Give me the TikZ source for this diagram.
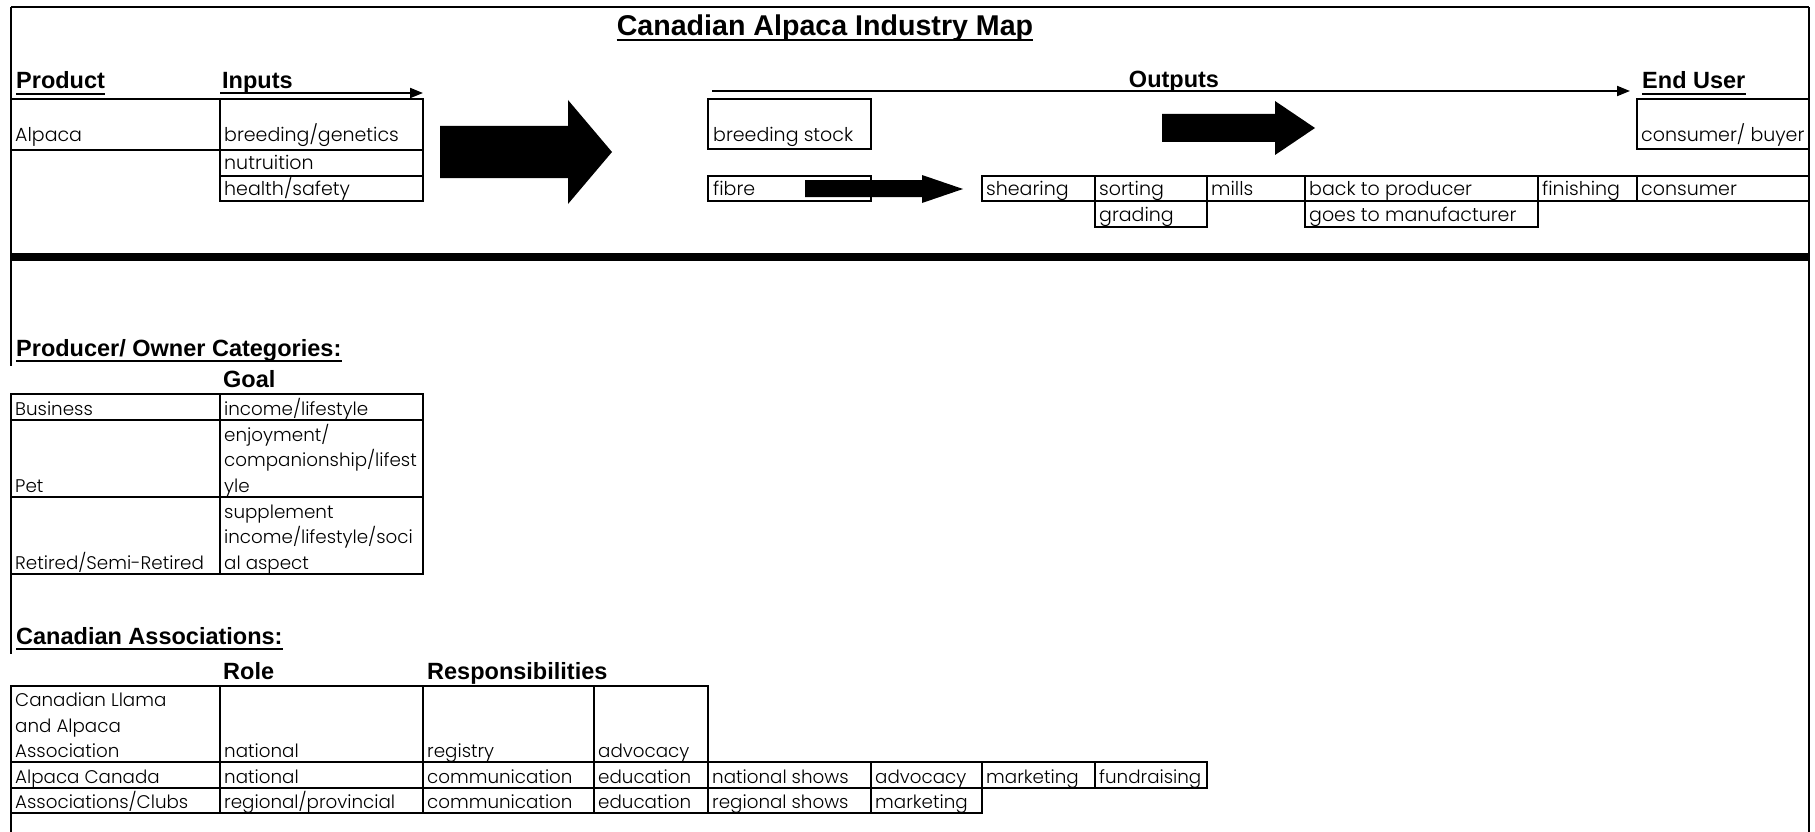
\documentclass[tikz,border=0pt]{standalone}
\usepackage{fontspec}
\setmainfont{Poppins}[UprightFont={* Light}]
\newfontfamily\titlefont{Liberation Sans}
\usetikzlibrary{arrows.meta}
\tikzset{
  txt/.style={anchor=base west, inner sep=0pt, font=\fontsize{19}{19}\selectfont},
  sml/.style={anchor=base west, inner sep=0pt, font=\fontsize{18.3}{18.3}\selectfont},
  head/.style={anchor=base west, inner sep=0pt, font=\titlefont\bfseries\fontsize{23.5}{23.5}\selectfont},
  ttl/.style={anchor=base, inner sep=0pt, font=\titlefont\bfseries\fontsize{28.6}{28.6}\selectfont},
  cell/.style={draw, line width=2pt},
  frm/.style={line width=2.6pt},
  thinarrow/.style={line width=2pt, -{Triangle[length=13pt,width=10pt]}},
  ul/.style={line width=2pt},
  blockarrow/.style={fill=black, draw=none},
}
\begin{document}
\begin{tikzpicture}[x=1pt,y=-1pt]
\useasboundingbox (0,0) rectangle (1815,832);
% frame
\draw[frm] (11,7) -- (1809,7);
\draw[frm] (1809,7) -- (1809,832);
\draw[frm] (11,7) -- (11,366);
\draw[frm] (11,574) -- (11,654);
\draw[frm] (11,813) -- (11,832);
\draw[line width=8pt] (11,257) -- (1809,257);

% title
\node[ttl] (title) at (825,36) {Canadian Alpaca Industry Map};
\draw[ul] ([yshift=-4pt]title.base west) -- ([yshift=-4pt]title.base east);

% headers
\node[head] (product) at (16,89) {Product};
\draw[ul] ([yshift=-5pt]product.base west) -- ([yshift=-5pt]product.base east);
\node[head] (inputs) at (222,89) {Inputs};
\node[head, anchor=base] (outputs) at (1174,88) {Outputs};
\node[head] (enduser) at (1642,89) {End User};
\draw[ul] ([yshift=-5pt]enduser.base west) -- ([yshift=-5pt]enduser.base east);

\coordinate (ia) at (220,93);
\coordinate (ib) at (423,93);
\draw[thinarrow] (ia) -- (ib);
\coordinate (oa) at (712,91);
\coordinate (ob) at (1630,91);
\draw[thinarrow] (oa) -- (ob);

% product / inputs
\draw[cell] (11,99) -- (220,99);
\draw[cell] (11,150) -- (220,150);
\draw[cell] (220,99) rectangle (423,201);
\draw[cell] (220,150) -- (423,150);
\draw[cell] (220,176) -- (423,176);
\node[txt] (alpaca) at (15,142) {Alpaca};
\node[txt] (breed) at (224,142) {breeding/genetics};
\node[txt] (nutr) at (224,169) {nutruition};
\node[txt] (health) at (224,195) {health/safety};

% big arrow
\fill[blockarrow] (440,126) -- (568,126) -- (568,100) -- (612,152) -- (568,204) -- (568,178) -- (440,178) -- cycle;

% outputs
\draw[cell] (708,99) rectangle (871,149);
\node[txt] (bstock) at (713,142) {breeding stock};
\draw[cell] (708,176) rectangle (871,201);
\node[txt] (fibre) at (713,195) {fibre};
\fill[blockarrow] (805,180) -- (922,180) -- (922,175) -- (963,189) -- (922,203) -- (922,197) -- (805,197) -- cycle;
\fill[blockarrow] (1162,114) -- (1275,114) -- (1275,101) -- (1315,128) -- (1275,155) -- (1275,142) -- (1162,142) -- cycle;

\draw[cell] (982,176) rectangle (1809,201);
\foreach \x in {1095,1207,1305,1538,1637} \draw[cell] (\x,176) -- (\x,201);
\draw[cell] (1095,201) rectangle (1207,227);
\draw[cell] (1305,201) rectangle (1538,227);
\node[txt] (shear) at (986,195) {shearing};
\node[txt] (sort) at (1099,195) {sorting};
\node[txt] (mills) at (1211,195) {mills};
\node[txt] (back) at (1309,195) {back to producer};
\node[txt] (finish) at (1542,195) {finishing};
\node[txt] (cons) at (1641,195) {consumer};
\node[txt] (grad) at (1099,221) {grading};
\node[txt] (goes) at (1309,221) {goes to manufacturer};

\draw[cell] (1637,99) rectangle (1809,149);
\node[txt] (cbuyer) at (1641,142) {consumer/ buyer};

% producer categories
\node[head] (prodcat) at (16,356) {Producer/ Owner Categories:};
\draw[ul] ([yshift=-5pt]prodcat.base west) -- ([yshift=-5pt]prodcat.base east);
\node[head] (goal) at (223,387) {Goal};
\draw[cell] (11,394) rectangle (423,574);
\draw[cell] (220,394) -- (220,574);
\draw[cell] (11,420) -- (423,420);
\draw[cell] (11,497) -- (423,497);
\node[sml] (bus) at (15,415) {Business};
\node[sml] (busg) at (224,415) {income/lifestyle};
\node[sml] (pet) at (15,492) {Pet};
\node[sml] (petg1) at (224,441) {enjoyment/};
\node[sml] (petg2) at (224,466) {companionship/lifest};
\node[sml] (petg3) at (224,492) {yle};
\node[sml] (ret) at (15,569) {Retired/Semi-Retired};
\node[sml] (retg1) at (224,518) {supplement};
\node[sml] (retg2) at (224,543) {income/lifestyle/soci};
\node[sml] (retg3) at (224,569) {al aspect};

% associations
\node[head] (assoc) at (16,644) {Canadian Associations:};
\draw[ul] ([yshift=-5pt]assoc.base west) -- ([yshift=-5pt]assoc.base east);
\node[head] (role) at (223,679) {Role};
\node[head] (resp) at (427,679) {Responsibilities};

\draw[cell] (11,685.5) rectangle (708,762);
\foreach \x in {220,423,594} \draw[cell] (\x,685.5) -- (\x,762);
\draw[cell] (11,762) rectangle (1207,787.5);
\foreach \x in {220,423,594,708,871,982,1095} \draw[cell] (\x,762) -- (\x,787.5);
\draw[cell] (11,787.5) rectangle (982,813);
\foreach \x in {220,423,594,708,871} \draw[cell] (\x,787.5) -- (\x,813);

\node[sml] (claa1) at (15,706) {Canadian Llama};
\node[sml] (claa2) at (15,732) {and Alpaca};
\node[sml] (claa3) at (15,757) {Association};
\node[sml] (claar) at (224,757) {national};
\node[sml] (claa4) at (427,757) {registry};
\node[sml] (claa5) at (598,757) {advocacy};

\node[sml] (ac1) at (15,783) {Alpaca Canada};
\node[sml] (ac2) at (224,783) {national};
\node[sml] (ac3) at (427,783) {communication};
\node[sml] (ac4) at (598,783) {education};
\node[sml] (ac5) at (712,783) {national shows};
\node[sml] (ac6) at (875,783) {advocacy};
\node[sml] (ac7) at (986,783) {marketing};
\node[sml] (ac8) at (1099,783) {fundraising};

\node[sml] (cl1) at (15,808) {Associations/Clubs};
\node[sml] (cl2) at (224,808) {regional/provincial};
\node[sml] (cl3) at (427,808) {communication};
\node[sml] (cl4) at (598,808) {education};
\node[sml] (cl5) at (712,808) {regional shows};
\node[sml] (cl6) at (875,808) {marketing};
\end{tikzpicture}
\end{document}
